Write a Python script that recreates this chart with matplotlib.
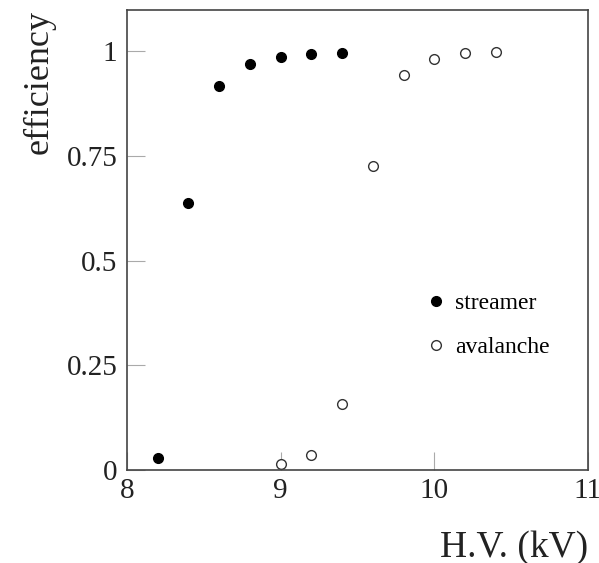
import matplotlib.pyplot as plt

plt.rcParams['font.family'] = ['Liberation Serif', 'DejaVu Serif']

# data
hv_streamer = [8.2, 8.4, 8.6, 8.8, 9.0, 9.2, 9.4]
eff_streamer = [0.029, 0.637, 0.916, 0.969, 0.986, 0.993, 0.995]

hv_avalanche = [9.0, 9.2, 9.4, 9.6, 9.8, 10.0, 10.2, 10.4]
eff_avalanche = [0.014, 0.036, 0.158, 0.726, 0.943, 0.981, 0.995, 0.997]

x_ticks = [8, 9, 10, 11]
y_ticks = [0, 0.25, 0.5, 0.75, 1]
y_ticklabels = ['0', '0.25', '0.5', '0.75', '1']

fig = plt.figure(figsize=(5.99, 5.63), dpi=100)
ax = fig.add_axes([127 / 599, 1 - 470 / 563, 461 / 599, 460 / 563])

ax.plot(hv_streamer, eff_streamer, 'o', color='black', markersize=7,
        label='streamer')
ax.plot(hv_avalanche, eff_avalanche, 'o', markerfacecolor='white',
        markeredgecolor='#333333', markeredgewidth=1.0, markersize=7,
        label='avalanche')

ax.set_xlim(8, 11)
ax.set_ylim(0, 1.098)
ax.set_xticks(x_ticks)
ax.set_yticks(y_ticks)
ax.set_yticklabels(y_ticklabels)
ax.tick_params(direction='in', length=13, width=0.8, color='#aaaaaa',
               labelsize=21, labelcolor='#222222')
ax.tick_params(axis='y', pad=7)
ax.tick_params(axis='x', pad=6)

for s in ax.spines.values():
    s.set_color('#444444')
    s.set_linewidth(1.2)

ax.set_ylabel('efficiency', fontsize=26, color='#222222', loc='top', labelpad=8)
ax.set_xlabel('H.V. (kV)', fontsize=27, color='#222222', loc='right', labelpad=19)

ax.legend(loc='upper left', bbox_to_anchor=(0.645, 0.385), frameon=False,
          fontsize=17, handlelength=1.0, handletextpad=0.3, labelspacing=0.95,
          borderpad=0, borderaxespad=0)

fig.savefig('out.png', dpi=100)
